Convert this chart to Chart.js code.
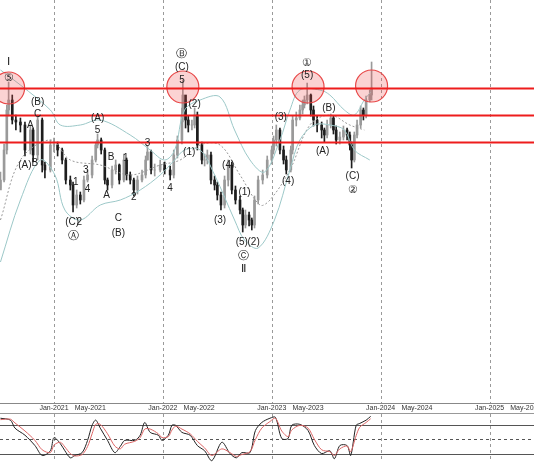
<!DOCTYPE html>
<html>
<head>
<meta charset="utf-8">
<script src="https://cdn.jsdelivr.net/npm/chart.js@4"></script>
<style>
  body { margin: 0; background: #fff; }
  #main { position: absolute; left: 0; top: 0; width: 534px; height: 413px; }
  #osc { position: absolute; left: 0; top: 413px; width: 534px; height: 49px; border-top: 1px solid #999; }
</style>
</head>
<body>
<div id="main"><canvas id="priceChart"></canvas></div>
<div id="osc"><canvas id="oscChart"></canvas></div>
<script>
// months counted from Jan-2020 (12 = Jan-2021)
const months = [
  6.1,6.5,6.8,7.0,7.4,7.8,8.3,8.8,9.4,9.7,
  10.2,10.7,11.0,11.6,12.0,12.4,12.9,13.3,13.8,14.1,
  14.5,14.9,15.3,15.7,16.2,16.6,16.8,17.2,17.6,17.9,
  18.4,18.8,19.2,19.7,20.0,20.4,20.8,21.2,21.7,22.1,
  22.3,22.7,23.1,23.7,24.2,24.8,25.2,25.6,26.1,26.2,
  26.5,26.8,27.2,27.5,27.8,28.3,28.6,28.9,29.3,29.7,
  30.0,30.4,30.8,31.2,31.6,32.0,32.5,32.8,33.1,33.5,
  33.8,34.1,34.5,35.0,35.5,36.0,36.2,36.5,36.9,37.3,
  37.6,38.1,38.3,38.7,39.1,39.4,39.6,39.9,40.3,40.6,
  41.0,41.5,41.8,42.1,42.5,42.8,43.1,43.5,43.9,44.3,
  44.6,44.8,45.1,45.4,45.8,46.1,46.4,46.8,47.0
];
const closes = [
  220,250,290,300,280,278,275,250,270,245,
  280,235,230,255,255,250,240,220,215,195,
  205,200,220,225,240,255,260,250,220,215,
  230,235,220,240,225,220,210,220,225,240,
  248,230,230,235,230,225,245,260,285,305,
  280,275,275,285,255,240,240,245,220,215,
  205,195,220,235,210,200,190,175,185,180,
  175,200,220,225,240,250,260,270,250,240,
  230,250,280,282,290,295,300,305,290,280,
  275,270,265,275,282,270,260,263,270,265,
  255,240,265,275,290,285,300,305,312
];
const highs = [
  228,256,295,318,305,285,282,278,275,272,
  285,282,238,260,262,258,252,242,224,218,
  210,208,224,230,244,258,266,262,252,222,
  234,240,236,246,242,228,222,224,230,244,
  254,250,236,240,238,234,250,264,292,320,
  300,284,280,292,288,258,246,250,248,224,
  218,208,224,240,238,214,204,192,190,188,
  182,204,224,230,244,254,264,275,272,254,
  244,254,284,288,295,300,304,317,306,294,
  284,278,272,280,286,284,274,268,274,272,
  268,258,268,280,294,292,304,310,338
];
const lows = [
  212,218,246,284,276,270,268,244,246,238,
  240,228,222,228,248,244,236,216,210,188,
  192,196,198,218,222,238,252,246,216,210,
  212,226,216,218,220,216,204,206,218,222,
  240,226,224,228,226,220,222,242,256,278,
  272,268,270,272,250,236,234,236,216,210,
  200,190,192,214,206,196,186,168,172,174,
  170,172,196,216,222,236,246,254,246,236,
  226,228,246,274,280,286,292,296,284,274,
  268,262,258,262,272,266,256,256,260,260,
  250,232,238,262,272,280,282,298,300
];

const upperMonths = [6.1,8.3,11.6,12.7,14.9,17.1,20.4,22.6,24.2,25.3,26.4,28.1,30.3,31.9,33.6,35.2,36.9,38.0,39.1,41.3,42.4,44.0,45.1,46.2,46.9];
const upperBand   = [330,315,290,275,275,280,265,250,240,250,290,300,303,270,240,228,260,290,310,310,305,290,285,300,308];
const lowerMonths = [6.1,8.3,10.5,12.1,13.2,14.9,17.1,19.3,21.5,23.7,25.3,26.4,28.1,29.7,31.9,33.0,34.5,36.3,38.0,39.1,40.7,42.4,44.0,45.1,46.8];
const lowerBand   = [138,200,240,225,190,180,195,200,210,225,240,250,250,225,180,160,152,180,230,260,275,275,270,250,240];
const middleMonths = [6.1,8.3,11.6,13.8,17.1,20.4,23.7,25.9,28.1,30.3,32.5,34.7,35.8,38.0,40.2,42.4,44.6,46.2];
const middleBand   = [180,240,260,240,235,225,235,240,255,255,225,195,200,230,275,285,275,270];

const levels = [312, 285, 258];
const circleMonths = [7.0, 26.2, 40.0, 47.0];
const circlePrices = [312, 313, 313, 314];

const waveLabels = [
  ['Ⅰ',7.0,338],['⑤',7.0,322],['(B)',10.2,298],['C',10.2,286],['A',9.4,275],['(A)',8.8,235],['B',9.9,237],
  ['(A)',16.8,282],['5',16.8,270],['3',15.5,230],['1',14.4,218],['4',15.7,211],['(C)',14.0,178],['2',14.8,178],['Ⓐ',14.2,164],
  ['B',18.3,243],['1',19.9,242],['A',17.8,205],['C',19.1,182],['(B)',19.1,167],['2',20.8,203],['3',22.3,257],['4',24.8,212],
  ['Ⓑ',26.1,346],['(C)',26.1,333],['5',26.1,320],['(2)',27.5,296],['(1)',26.9,248],['(4)',31.2,235],['(3)',30.3,180],
  ['(1)',33.0,208],['(5)',32.7,158],['(2)',34.0,158],['Ⓒ',32.9,144],['Ⅱ',32.9,131],
  ['(3)',37.0,283],['(4)',37.8,219],['①',39.9,337],['(5)',39.9,325],['(B)',42.3,292],['(A)',41.6,249],['(C)',44.9,224],['②',44.9,210]
];

const tickMonths = [12,16,24,28,36,40,48,52,60,64];
const tickLabels = ['Jan-2021','May-2021','Jan-2022','May-2022','Jan-2023','May-2023','Jan-2024','May-2024','Jan-2025','May-2025'];
const yearMonths = [12,24,36,48,60];

const oscMonths = [
  6.1,7.2,7.7,8.8,9.9,10.7,11.6,12.0,12.7,13.2,
  13.8,14.3,15.1,15.7,16.2,16.6,17.1,17.9,18.7,19.3,
  19.8,20.9,21.5,22.0,22.6,23.5,23.9,24.6,25.0,25.4,
  26.1,27.0,27.8,28.6,29.4,30.5,31.4,32.1,32.7,33.6,
  34.2,34.9,35.8,36.4,37.1,37.8,38.2,39.1,40.0,40.7,
  41.5,42.4,42.9,43.5,44.3,44.7,45.3,45.7,46.4,46.9
];
const oscMain = [
  95,91,74,59,37,16,26,54,41,26,
  11,16,22,48,80,91,74,48,22,35,
  48,48,59,86,65,59,48,59,80,80,
  65,59,37,26,5,44,20,11,22,22,
  69,86,95,97,52,52,80,82,69,37,
  20,26,9,37,37,16,80,84,91,99
];
const oscSignal = [
  92,93,85,68,48,28,22,38,44,34,
  20,15,18,35,62,82,82,62,36,30,
  40,46,54,72,72,62,54,56,70,78,
  72,62,46,32,16,30,22,14,18,24,
  50,74,88,95,68,56,70,80,74,50,
  28,24,16,30,36,24,58,76,86,94
];

const X_MIN = 6.05, X_MAX = 64.9;
const pts = (xs, ys) => xs.map((x, i) => ({ x: x, y: ys[i] }));
const opens = closes.map((c, i) => i === 0 ? c - 10 : closes[i - 1]);
const candleColor = closes.map((c, i) => c >= opens[i] ? '#9a9a9a' : '#1e1e1e');

function drawYearLines(chart) {
  const { ctx, chartArea, scales: { x } } = chart;
  ctx.save();
  ctx.lineWidth = 1;
  ctx.strokeStyle = '#9a9a9a';
  ctx.setLineDash([3, 3]);
  yearMonths.forEach(m => {
    const px = Math.round(x.getPixelForValue(m)) + 0.5;
    ctx.beginPath(); ctx.moveTo(px, chartArea.top); ctx.lineTo(px, chartArea.bottom); ctx.stroke();
  });
  ctx.restore();
}

const overlay = {
  id: 'overlay',
  beforeDatasetsDraw(chart) { drawYearLines(chart); },
  afterDatasetsDraw(chart) {
    const { ctx, chartArea, scales: { x, y } } = chart;
    ctx.save();
    ctx.beginPath();
    ctx.rect(chartArea.left, chartArea.top, chartArea.width, chartArea.height);
    ctx.clip();
    circleMonths.forEach((m, i) => {
      ctx.beginPath();
      ctx.arc(x.getPixelForValue(m), y.getPixelForValue(circlePrices[i]), 16, 0, Math.PI * 2);
      ctx.fillStyle = 'rgba(240,80,80,0.25)';
      ctx.fill();
      ctx.lineWidth = 1.2;
      ctx.strokeStyle = '#e84848';
      ctx.stroke();
    });
    ctx.strokeStyle = '#ee1c1c';
    ctx.lineWidth = 2;
    levels.forEach(p => {
      const py = Math.round(y.getPixelForValue(p)) + 0.5;
      ctx.beginPath();
      ctx.moveTo(chartArea.left, py);
      ctx.lineTo(chartArea.right, py);
      ctx.stroke();
    });
    ctx.fillStyle = '#222';
    ctx.textAlign = 'center';
    ctx.textBaseline = 'middle';
    waveLabels.forEach(([t, m, p]) => {
      ctx.font = (/[ⅠⅡ①②⑤ⒶⒷⒸ]/.test(t) ? '11px' : '10px') + ' "Liberation Sans", Arial';
      ctx.fillText(t, x.getPixelForValue(m), y.getPixelForValue(p));
    });
    ctx.restore();
  }
};

new Chart(document.getElementById('priceChart'), {
  type: 'bar',
  data: {
    datasets: [
      { type: 'line', data: pts(upperMonths, upperBand), borderColor: '#9cc8c8', borderWidth: 1, pointRadius: 0, tension: 0.35 },
      { type: 'line', data: pts(lowerMonths, lowerBand), borderColor: '#9cc8c8', borderWidth: 1, pointRadius: 0, tension: 0.35 },
      { type: 'line', data: pts(middleMonths, middleBand), borderColor: '#999', borderWidth: 1, borderDash: [2, 2], pointRadius: 0, tension: 0.35 },
      { data: months.map((m, i) => ({ x: m, y: [lows[i], highs[i]] })), backgroundColor: candleColor, barThickness: 1, grouped: false },
      { data: months.map((m, i) => ({ x: m, y: [opens[i], closes[i]] })), backgroundColor: candleColor, barThickness: 2, grouped: false }
    ]
  },
  options: {
    responsive: true,
    maintainAspectRatio: false,
    animation: false,
    layout: { padding: 0 },
    plugins: { legend: { display: false }, tooltip: { enabled: false } },
    scales: {
      x: {
        type: 'linear', min: X_MIN, max: X_MAX, offset: false,
        afterBuildTicks: s => { s.ticks = tickMonths.map(v => ({ value: v })); },
        afterFit: s => { s.paddingLeft = 0; s.paddingRight = 0; s.height = 10; },
        ticks: {
          autoSkip: false, maxRotation: 0, padding: 1,
          font: { size: 7, family: 'Arial' }, color: '#333',
          callback: v => tickLabels[tickMonths.indexOf(v)]
        },
        grid: { color: 'rgba(0,0,0,0)', drawTicks: false },
        border: { display: true, color: '#888' }
      },
      y: { display: false, min: -3, max: 400 }
    }
  },
  plugins: [overlay]
});

const oscGrid = {
  id: 'oscGrid',
  beforeDatasetsDraw(chart) {
    drawYearLines(chart);
    const { ctx, chartArea, scales: { y } } = chart;
    ctx.save();
    ctx.lineWidth = 1;
    [[80, []], [50, [3, 3]], [20, []]].forEach(([v, d]) => {
      ctx.setLineDash(d);
      ctx.strokeStyle = '#555';
      const py = Math.round(y.getPixelForValue(v)) + 0.5;
      ctx.beginPath(); ctx.moveTo(chartArea.left, py); ctx.lineTo(chartArea.right, py); ctx.stroke();
    });
    ctx.restore();
  }
};

new Chart(document.getElementById('oscChart'), {
  type: 'line',
  data: {
    datasets: [
      { data: pts(oscMonths, oscSignal), borderColor: '#d66', borderWidth: 1, pointRadius: 0, tension: 0.3 },
      { data: pts(oscMonths, oscMain), borderColor: '#222', borderWidth: 1, pointRadius: 0, tension: 0.3 }
    ]
  },
  options: {
    responsive: true,
    maintainAspectRatio: false,
    animation: false,
    layout: { padding: 0 },
    plugins: { legend: { display: false }, tooltip: { enabled: false } },
    scales: {
      x: { type: 'linear', display: false, min: X_MIN, max: X_MAX },
      y: { display: false, min: 0, max: 104 }
    }
  },
  plugins: [oscGrid]
});
</script>
</body>
</html>
